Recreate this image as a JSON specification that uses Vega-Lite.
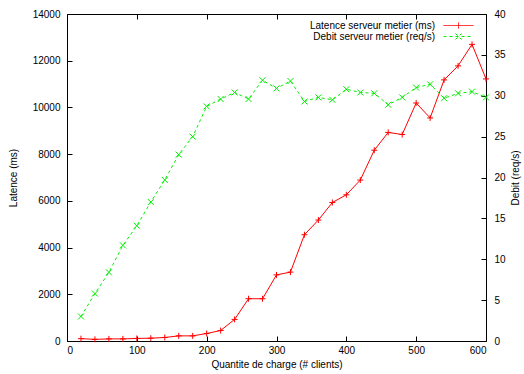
{
  "$schema": "https://vega.github.io/schema/vega-lite/v6.json",
  "width": 419,
  "height": 327,
  "autosize": "none",
  "padding": {"left": 67, "top": 14, "right": 38, "bottom": 33},
  "background": "white",
  "config": {
    "view": {"stroke": "black", "strokeWidth": 1},
    "font": "Liberation Sans",
    "axis": {
      "labelFont": "Liberation Sans",
      "labelFontSize": 10,
      "labelColor": "black",
      "titleFont": "Liberation Sans",
      "titleFontSize": 10,
      "titleFontWeight": "normal",
      "titleColor": "black",
      "grid": false,
      "domain": false,
      "tickColor": "black",
      "tickSize": -5,
      "tickWidth": 1
    },
    "legend": {
      "orient": "none",
      "legendX": 386,
      "legendY": 6,
      "padding": 0,
      "labelFont": "Liberation Sans",
      "labelFontSize": 10,
      "labelColor": "black",
      "labelAlign": "right",
      "labelOffset": -29,
      "symbolSize": 100,
      "symbolStrokeWidth": 1,
      "rowPadding": 0,
      "title": null
    }
  },
  "data": {
    "values": [
      {"x": 20, "lat": 100, "deb": 3.0},
      {"x": 40, "lat": 70, "deb": 5.8},
      {"x": 60, "lat": 90, "deb": 8.4},
      {"x": 80, "lat": 90, "deb": 11.7},
      {"x": 100, "lat": 110, "deb": 14.1},
      {"x": 120, "lat": 120, "deb": 17.0},
      {"x": 140, "lat": 150, "deb": 19.7},
      {"x": 160, "lat": 220, "deb": 22.8},
      {"x": 180, "lat": 220, "deb": 25.0},
      {"x": 200, "lat": 320, "deb": 28.7},
      {"x": 220, "lat": 450, "deb": 29.6},
      {"x": 240, "lat": 925, "deb": 30.4},
      {"x": 260, "lat": 1810, "deb": 29.6},
      {"x": 280, "lat": 1810, "deb": 31.9},
      {"x": 300, "lat": 2830, "deb": 30.9},
      {"x": 320, "lat": 2950, "deb": 31.8},
      {"x": 340, "lat": 4550, "deb": 29.3},
      {"x": 360, "lat": 5180, "deb": 29.8},
      {"x": 380, "lat": 5930, "deb": 29.5},
      {"x": 400, "lat": 6260, "deb": 30.8},
      {"x": 420, "lat": 6890, "deb": 30.4},
      {"x": 440, "lat": 8170, "deb": 30.3},
      {"x": 460, "lat": 8930, "deb": 28.9},
      {"x": 480, "lat": 8840, "deb": 29.8},
      {"x": 500, "lat": 10190, "deb": 31.0},
      {"x": 520, "lat": 9550, "deb": 31.4},
      {"x": 540, "lat": 11180, "deb": 29.7},
      {"x": 560, "lat": 11780, "deb": 30.3},
      {"x": 580, "lat": 12700, "deb": 30.5},
      {"x": 600, "lat": 11220, "deb": 29.8}
    ]
  },
  "layer": [
    {
      "mark": {
        "type": "line",
        "strokeWidth": 1,
        "point": {"shape": "M-1,0H1M0,-1V1", "filled": false, "size": 36, "strokeWidth": 1, "opacity": 1}
      },
      "encoding": {
        "x": {
          "field": "x", "type": "quantitative",
          "scale": {"domain": [0, 600], "nice": false, "zero": false},
          "axis": {"orient": "bottom", "values": [0, 100, 200, 300, 400, 500, 600], "labelPadding": 9, "title": "Quantite de charge (# clients)", "titlePadding": 4}
        },
        "y": {
          "field": "lat", "type": "quantitative",
          "scale": {"domain": [0, 14000], "nice": false},
          "axis": {"orient": "left", "values": [0, 2000, 4000, 6000, 8000, 10000, 12000, 14000], "format": "d", "labelPadding": 12, "title": "Latence (ms)", "titlePadding": 14}
        },
        "color": {
          "datum": "Latence serveur metier (ms)",
          "scale": {"domain": ["Latence serveur metier (ms)", "Debit serveur metier (req/s)"], "range": ["#ff0000", "#00ee00"]},
          "legend": {
            "encode": {
              "symbols": {
                "update": {
                  "shape": {"signal": "datum.value === 'Latence serveur metier (ms)' ? 'M-3,0H3M0,-0.6V0.6' : 'M-3,0H3M-0.6,-0.6L0.6,0.6M-0.6,0.6L0.6,-0.6'"},
                  "strokeDash": {"signal": "datum.value === 'Latence serveur metier (ms)' ? [1,0] : [3,3]"}
                }
              }
            }
          }
        }
      }
    },
    {
      "mark": {
        "type": "line",
        "strokeWidth": 1,
        "strokeDash": [3, 3],
        "point": {"shape": "M-1,-1L1,1M-1,1L1,-1", "filled": false, "size": 36, "strokeWidth": 1, "opacity": 1}
      },
      "encoding": {
        "x": {
          "field": "x", "type": "quantitative",
          "scale": {"domain": [0, 600], "nice": false, "zero": false},
          "axis": {"orient": "top", "values": [0, 100, 200, 300, 400, 500, 600], "labels": false, "title": null}
        },
        "y": {
          "field": "deb", "type": "quantitative",
          "scale": {"domain": [0, 40], "nice": false},
          "axis": {"orient": "right", "values": [0, 5, 10, 15, 20, 25, 30, 35, 40], "labelPadding": 13, "title": "Debit (req/s)", "titleAngle": 270, "titlePadding": 15}
        },
        "color": {"datum": "Debit serveur metier (req/s)"}
      }
    }
  ],
  "resolve": {"scale": {"y": "independent"}, "axis": {"x": "independent"}}
}
